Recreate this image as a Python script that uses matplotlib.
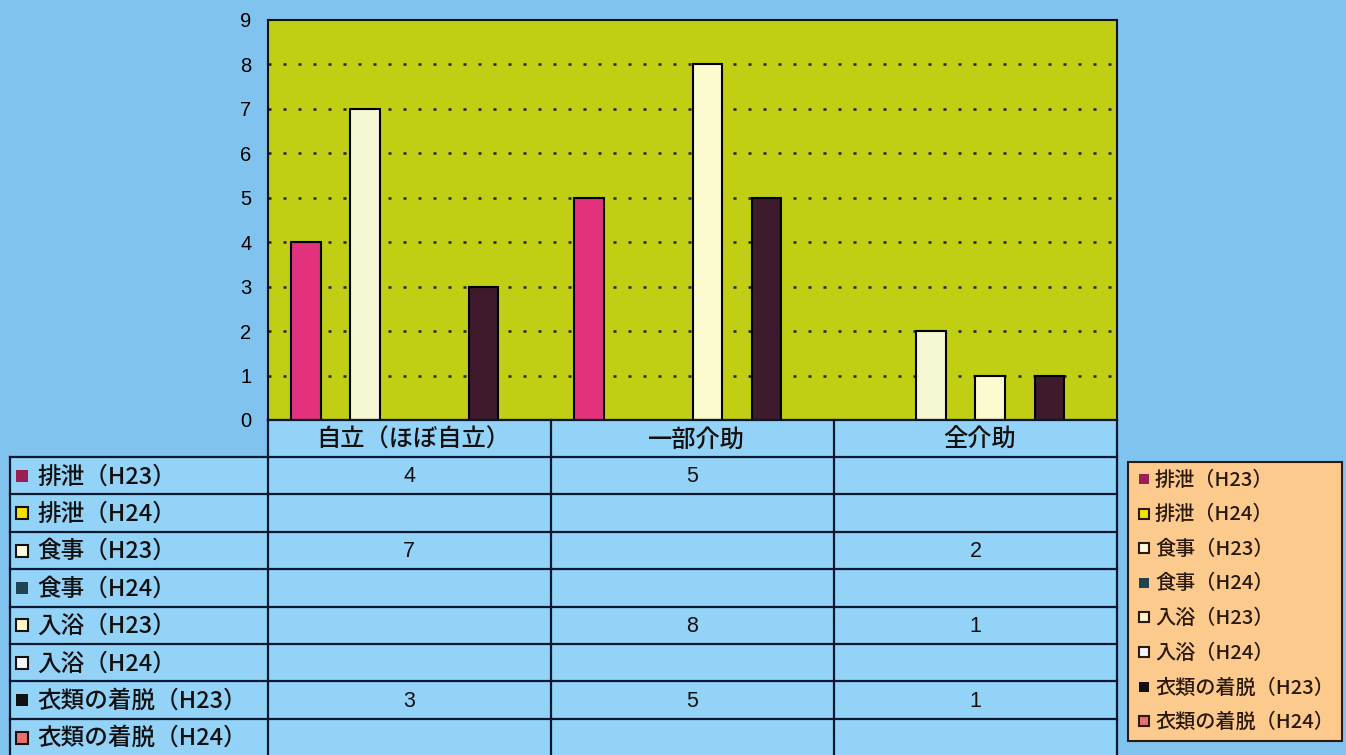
import numpy as np
import matplotlib
matplotlib.use('Agg')
import matplotlib.pyplot as plt
from matplotlib.patches import Rectangle

plt.rcParams['font.family'] = ['Noto Sans CJK JP', 'DejaVu Sans']

# data
categories = ['自立（ほぼ自立）', '一部介助', '全介助']
series = ['排泄（H23）', '排泄（H24）', '食事（H23）', '食事（H24）',
          '入浴（H23）', '入浴（H24）', '衣類の着脱（H23）', '衣類の着脱（H24）']
excretion_h23 = [4, 5, None]
excretion_h24 = [None, None, None]
meal_h23 = [7, None, 2]
meal_h24 = [None, None, None]
bath_h23 = [None, 8, 1]
bath_h24 = [None, None, None]
dress_h23 = [3, 5, 1]
dress_h24 = [None, None, None]
values = [excretion_h23, excretion_h24, meal_h23, meal_h24,
          bath_h23, bath_h24, dress_h23, dress_h24]
yticks = list(range(10))

# colours
bar_colors = ['#e2327c', '#f2e200', '#f6f8d4', '#1d4450',
              '#fbfbcf', '#f4f8ff', '#3d1a2c', '#e87070']
key_colors = ['#9a1f55', '#f2e200', '#fffbe0', '#1d4450',
              '#fff6c8', '#f2f6fa', '#111111', '#e87070']
key_edge = [False, True, True, False, True, True, False, True]
bg = '#80c3ee'
cell = '#93d3f7'
line = '#0c1830'

W, H = 1346, 755
fig = plt.figure(figsize=(W / 100, H / 100), dpi=100, facecolor=bg)

# main chart area (pixel layout)
L, R, T, B = 268, 1117, 20, 420
ax = fig.add_axes([L / W, 1 - B / H, (R - L) / W, (B - T) / H])
ax.set_facecolor('#c0cf14')

n = len(series)
bw = 0.1046
x = np.arange(len(categories))
for i, vals in enumerate(values):
    off = -0.5 + (1 - n * bw) / 2 + (i + 0.5) * bw
    for g, v in enumerate(vals):
        if v is None:
            continue
        ax.bar(x[g] + off, v, width=bw, color=bar_colors[i],
               edgecolor='black', linewidth=1.5, zorder=3)

ax.set_xlim(-0.5, len(categories) - 0.5)
ax.set_ylim(0, 9)
ax.set_yticks(yticks)
ax.set_yticklabels([str(t) for t in yticks], fontsize=14.5, family='Liberation Sans')
ax.tick_params(axis='y', length=0, pad=12)
ax.set_xticks([])
for y in yticks[1:-1]:
    ax.axhline(y, color='#222222', lw=1.8, dashes=(1.2, 4.8), zorder=1)
for s in ax.spines.values():
    s.set_linewidth(1.5)
    s.set_color('#111111')

# table + legend overlay, pixel coordinates
ov = fig.add_axes([0, 0, 1, 1], facecolor='none')
ov.set_xlim(0, W)
ov.set_ylim(H, 0)
ov.axis('off')

col_edges = [10, 268, 550.5, 834, 1117]
head_top, head_bot = 420, 457
row_h = 37.4
row_edges = [head_bot + k * row_h for k in range(n + 1)]

ov.add_patch(Rectangle((col_edges[1], head_top), col_edges[-1] - col_edges[1],
                       head_bot - head_top, fc=cell, ec='none'))
ov.add_patch(Rectangle((col_edges[0], head_bot), col_edges[-1] - col_edges[0],
                       row_edges[-1] - head_bot, fc=cell, ec='none'))
for yy in row_edges:
    ov.plot([col_edges[0], col_edges[-1]], [yy, yy], color=line, lw=1.6)
ov.plot([col_edges[1], col_edges[-1]], [head_top, head_top], color=line, lw=1.6)
for xx in col_edges:
    top = head_bot if xx == col_edges[0] else head_top
    ov.plot([xx, xx], [top, row_edges[-1]], color=line, lw=1.6)

for g, c in enumerate(categories):
    ov.text((col_edges[g + 1] + col_edges[g + 2]) / 2 + 4, (head_top + head_bot) / 2 + 1,
            c, ha='center', va='center', fontsize=17.5, color='#111111',
            fontweight='medium')

for i, name in enumerate(series):
    yc = (row_edges[i] + row_edges[i + 1]) / 2
    ov.add_patch(Rectangle((16, yc - 6), 12, 12, fc=key_colors[i],
                           ec='#111111' if key_edge[i] else 'none', lw=1.5))
    ov.text(37, yc + 1, name, ha='left', va='center', fontsize=17, color='#111111',
            fontweight='medium')
    for g, v in enumerate(values[i]):
        if v is None:
            continue
        ov.text((col_edges[g + 1] + col_edges[g + 2]) / 2, yc + 1, str(v),
                ha='center', va='center', fontsize=15.5, color='#111111',
                family='Liberation Sans')

# legend box
ov.add_patch(Rectangle((1128, 462), 214, 279, fc='#fdca8e', ec='#2a1a10', lw=1.5))
for i, name in enumerate(series):
    yc = 479 + i * 34.6
    ov.add_patch(Rectangle((1139, yc - 5), 10, 10, fc=key_colors[i],
                           ec='#2a1a10' if key_edge[i] else 'none', lw=1.5))
    ov.text(1155, yc + 1, name, ha='left', va='center', fontsize=14.5, color='#2a1a10',
            fontweight='medium')

fig.savefig('out.png', dpi=100, facecolor=bg)
